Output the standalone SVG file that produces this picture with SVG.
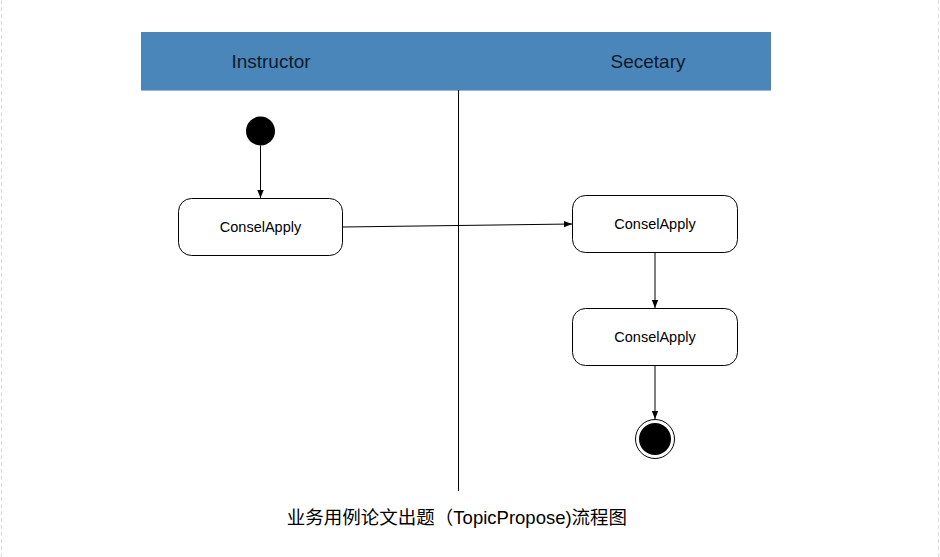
<svg xmlns="http://www.w3.org/2000/svg" width="940" height="557" viewBox="0 0 940 557">
<style>
.node rect{fill:#fff;stroke:#000;stroke-width:1}
.lbl{font-family:"Liberation Sans","Noto Sans",sans-serif;font-size:14.5px;fill:#000;text-anchor:middle}
.hdr{font-family:"Liberation Sans","Noto Sans",sans-serif;font-size:19px;fill:#0f1a2a;text-anchor:middle}
.edge{stroke:#000;stroke-width:1;fill:none;marker-end:url(#arr)}
</style>
<defs>
<marker id="arr" viewBox="0 0 10 10" refX="10" refY="5" markerWidth="8" markerHeight="10" markerUnits="userSpaceOnUse" orient="auto">
<path d="M0,1 L10,5 L0,9 z" fill="#000"/>
</marker>
</defs>
<rect x="0" y="0" width="940" height="557" fill="#fff"/>
<line x1="1.5" y1="0" x2="1.5" y2="557" stroke="#ddd" stroke-dasharray="4,3"/>
<line x1="938.5" y1="0" x2="938.5" y2="557" stroke="#ddd" stroke-dasharray="4,3"/>
<g id="header">
<rect x="141" y="32" width="630" height="58" fill="#4a86ba"/>
<line x1="141" y1="90.5" x2="771" y2="90.5" stroke="#9bb9d6" stroke-width="1"/>
<text class="hdr" x="271" y="68">Instructor</text>
<text class="hdr" x="648" y="68">Secetary</text>
</g>
<g id="lane-divider"><line x1="458.5" y1="90" x2="458.5" y2="491" stroke="#000" stroke-width="1"/></g>
<g id="start"><circle cx="260.5" cy="131" r="14.5" fill="#000"/></g>
<g id="n1" class="node"><rect x="178.5" y="198.5" width="164" height="57" rx="13"/><text class="lbl" x="260.5" y="231.5">ConselApply</text></g>
<g id="n2" class="node"><rect x="572.5" y="195.5" width="165" height="57" rx="13"/><text class="lbl" x="655" y="228.5">ConselApply</text></g>
<g id="n3" class="node"><rect x="572.5" y="308.5" width="165" height="57" rx="13"/><text class="lbl" x="655" y="341.5">ConselApply</text></g>
<g id="end"><circle cx="655" cy="439" r="19.5" fill="#fff" stroke="#000" stroke-width="1"/><circle cx="655" cy="439" r="16" fill="#000"/></g>
<g id="connectors">
<line class="edge" x1="260.5" y1="145.5" x2="260.5" y2="198"/>
<line class="edge" x1="342.5" y1="227" x2="572" y2="224"/>
<line class="edge" x1="655" y1="252.5" x2="655" y2="308"/>
<line class="edge" x1="655" y1="365.5" x2="655" y2="419"/>
</g>
<text x="457" y="524" font-family="'Liberation Sans','Noto Sans CJK SC',sans-serif" font-size="18.5" text-anchor="middle" fill="#000">业务用例论文出题（TopicPropose)流程图</text>
</svg>
